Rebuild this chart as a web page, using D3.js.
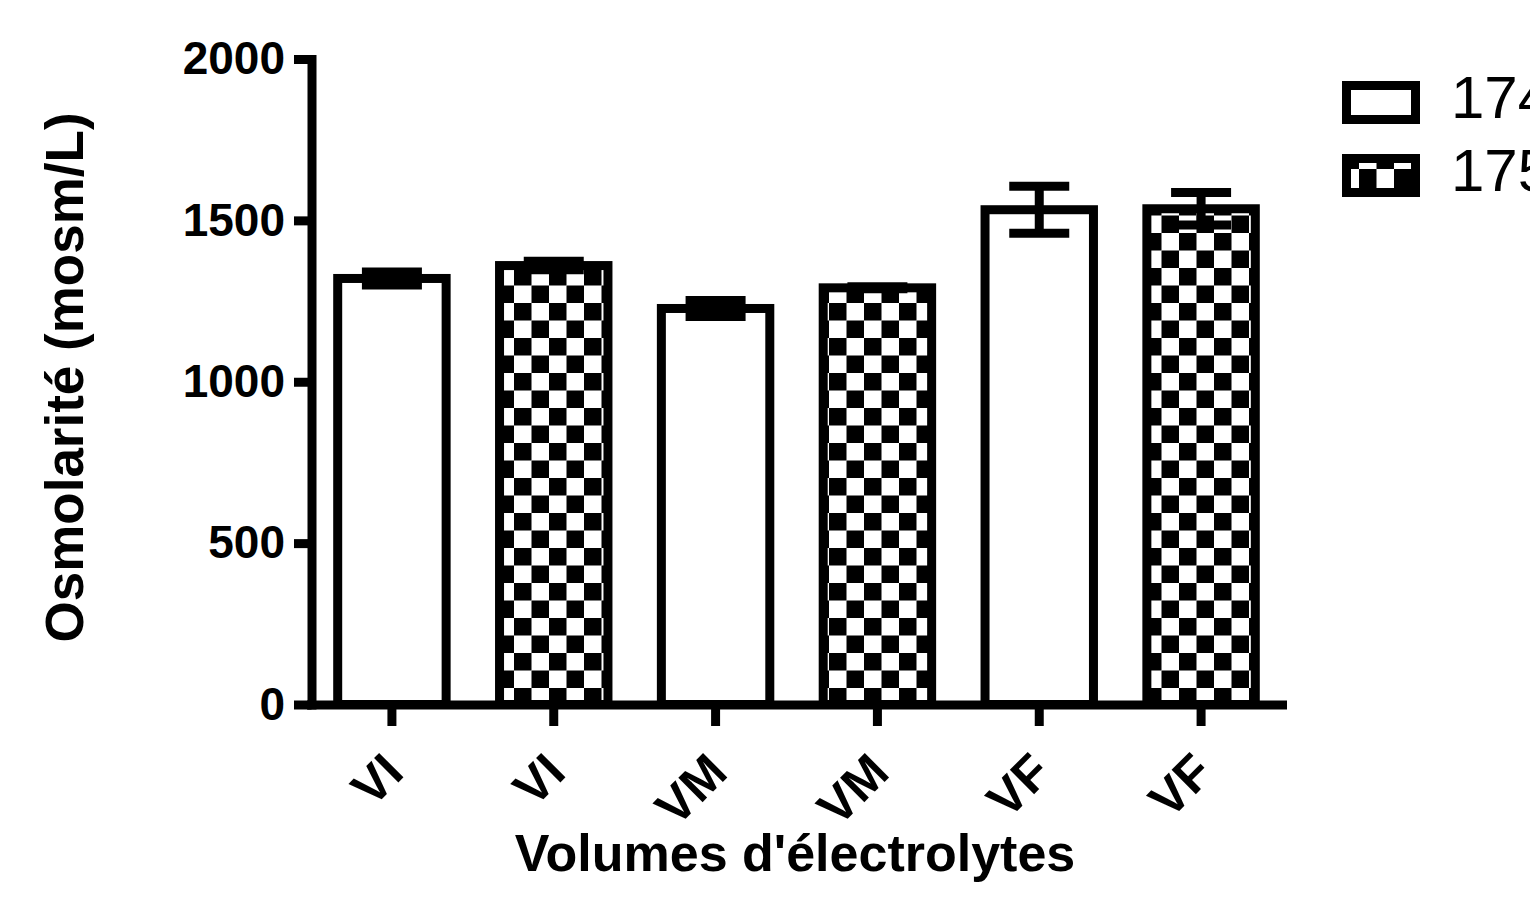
<!DOCTYPE html>
<html>
<head>
<meta charset="utf-8">
<script src="https://cdn.jsdelivr.net/npm/d3@7"></script>
<style>
	html, body { margin: 0; padding: 0; background: #fff; }
	svg { display: block; font-family: "Liberation Sans", Arial, sans-serif; }
</style>
</head>
<body>
<div id="chart"></div>
<script>
// values
const categories = ['VI', 'VI', 'VM', 'VM', 'VF', 'VF'];
const seriesOf = [0, 1, 0, 1, 0, 1];
const means = [1320, 1360, 1227, 1291, 1533, 1536];
const errors = [20, 13, 25, 3, 73, 50];
const seriesNames = ['174', '175'];
const yTicks = [0, 500, 1000, 1500, 2000];

const options = {
	w: 1530,
	h: 898,
	x0: 311,
	x1: 1282,
	yTop: 59,
	yBottom: 704.5,
	stroke: 9,
	capW: 60,
	cell: 17.5
};

const data = categories.map((c, i) => ({
	idx: i,
	label: c,
	series: seriesOf[i],
	mean: means[i],
	err: errors[i]
}));

const svg = d3.select('#chart')
	.append('svg')
	.attr('width', options.w)
	.attr('height', options.h)
	.attr('viewBox', `0 0 ${options.w} ${options.h}`);

svg.append('rect').attr('width', options.w).attr('height', options.h).attr('fill', '#fff');

// checker patterns
const defs = svg.append('defs');
const makeChecker = (id, ox, oy, cw, ch) => {
	const p = defs.append('pattern')
		.attr('id', id)
		.attr('patternUnits', 'userSpaceOnUse')
		.attr('x', ox).attr('y', oy)
		.attr('width', cw * 2).attr('height', ch * 2);
	p.append('rect').attr('width', cw * 2).attr('height', ch * 2).attr('fill', '#fff');
	p.append('rect').attr('width', cw).attr('height', ch).attr('fill', '#000');
	p.append('rect').attr('x', cw).attr('y', ch).attr('width', cw).attr('height', ch).attr('fill', '#000');
};
makeChecker('checker', 24, 23, options.cell, options.cell);
makeChecker('checkerLegend', 1359, 140, 17.5, 22);

const fills = ['#fff', 'url(#checker)'];
const legendFills = ['#fff', 'url(#checkerLegend)'];

const xScale = d3.scaleBand()
	.domain(data.map(d => d.idx))
	.range([options.x0, options.x1])
	.paddingInner(0.33)
	.paddingOuter(0.165);

const yScale = d3.scaleLinear()
	.domain([0, 2000])
	.range([options.yBottom, options.yTop]);

// bars
svg.selectAll('.bar')
	.data(data)
	.enter()
	.append('rect')
	.attr('class', 'bar')
	.attr('x', d => xScale(d.idx))
	.attr('y', d => yScale(d.mean))
	.attr('width', xScale.bandwidth())
	.attr('height', d => yScale(0) - yScale(d.mean))
	.attr('fill', d => fills[d.series])
	.attr('stroke', '#000')
	.attr('stroke-width', options.stroke);

// error bars
const eb = svg.selectAll('.err')
	.data(data)
	.enter()
	.append('g')
	.attr('class', 'err')
	.attr('transform', d => `translate(${xScale(d.idx) + xScale.bandwidth() / 2},0)`)
	.attr('stroke', '#000')
	.attr('stroke-width', options.stroke);

eb.append('line')
	.attr('y1', d => yScale(d.mean + d.err))
	.attr('y2', d => yScale(d.mean - d.err));
eb.append('line')
	.attr('x1', -options.capW / 2).attr('x2', options.capW / 2)
	.attr('y1', d => yScale(d.mean + d.err)).attr('y2', d => yScale(d.mean + d.err));
eb.append('line')
	.attr('x1', -options.capW / 2).attr('x2', options.capW / 2)
	.attr('y1', d => yScale(d.mean - d.err)).attr('y2', d => yScale(d.mean - d.err));

// axes
const xAxis = d3.axisBottom(xScale).tickSize(21.5).tickSizeOuter(0).tickFormat(i => categories[i]);
const yAxis = d3.axisLeft(yScale).tickValues(yTicks).tickFormat(d3.format('d')).tickSize(17.5).tickSizeOuter(0).tickPadding(9);

const gx = svg.append('g')
	.attr('class', 'xAxis')
	.attr('transform', `translate(0,${options.yBottom})`)
	.call(xAxis);

const gy = svg.append('g')
	.attr('class', 'yAxis')
	.attr('transform', `translate(${options.x0 + 0.5},0)`)
	.call(yAxis);

[gx, gy].forEach(g => {
	g.select('.domain').attr('stroke', '#000').attr('stroke-width', options.stroke).attr('stroke-linecap', 'square');
	g.selectAll('.tick line').attr('stroke', '#000').attr('stroke-width', options.stroke);
});

gy.selectAll('.tick text')
	.attr('fill', '#000')
	.attr('font-size', 46)
	.attr('font-weight', 'bold')
	.attr('font-family', '"Liberation Sans", Arial, sans-serif');

gx.selectAll('.tick text')
	.attr('fill', '#000')
	.attr('font-size', 50)
	.attr('font-weight', 'bold')
	.attr('font-family', '"Liberation Sans", Arial, sans-serif')
	.attr('text-anchor', 'end')
	.attr('y', null)
	.attr('dy', null)
	.attr('transform', 'translate(14,70.5) rotate(-45)');

// axis titles
svg.append('text')
	.attr('transform', 'translate(83,377.5) rotate(-90)')
	.attr('text-anchor', 'middle')
	.attr('font-size', 53)
	.attr('font-weight', 'bold')
	.text('Osmolarité (mosm/L)');

svg.append('text')
	.attr('x', 795)
	.attr('y', 871)
	.attr('text-anchor', 'middle')
	.attr('font-size', 52)
	.attr('font-weight', 'bold')
	.text("Volumes d'électrolytes");

// legend (its labels run off the right edge, as in the original)
const legend = svg.selectAll('.legend')
	.data(seriesNames)
	.enter()
	.append('g')
	.attr('class', 'legend')
	.attr('transform', (d, i) => `translate(0,${i * 73})`);

legend.append('rect')
	.attr('x', 1346.5)
	.attr('y', 85.5)
	.attr('width', 69)
	.attr('height', 34)
	.attr('fill', (d, i) => legendFills[i])
	.attr('stroke', '#000')
	.attr('stroke-width', options.stroke);

legend.append('text')
	.attr('x', 1451)
	.attr('y', 118)
	.attr('font-size', 60)
	.text(d => d);
</script>
</body>
</html>
